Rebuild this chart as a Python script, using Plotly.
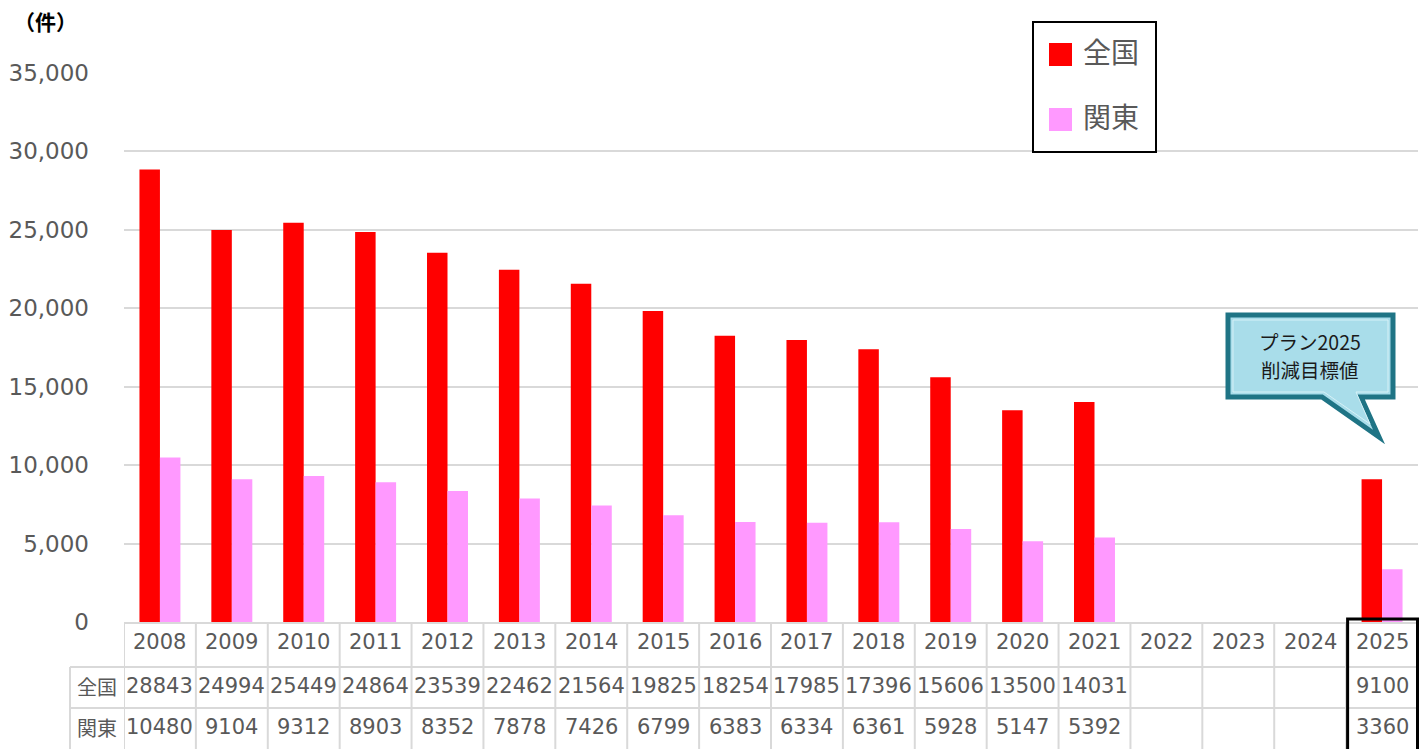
import plotly.graph_objects as go

# ---------------- data ----------------
years = ["2008", "2009", "2010", "2011", "2012", "2013", "2014", "2015", "2016",
         "2017", "2018", "2019", "2020", "2021", "2022", "2023", "2024", "2025"]
zenkoku = [28843, 24994, 25449, 24864, 23539, 22462, 21564, 19825, 18254,
           17985, 17396, 15606, 13500, 14031, None, None, None, 9100]
kanto = [10480, 9104, 9312, 8903, 8352, 7878, 7426, 6799, 6383,
         6334, 6361, 5928, 5147, 5392, None, None, None, 3360]
series_names = ["全国", "関東"]
unit_label = "（件）"
callout_lines = ["プラン2025", "削減目標値"]
y_ticks = [0, 5000, 10000, 15000, 20000, 25000, 30000, 35000]

# ---------------- styling ----------------
RED = "#FF0000"
PINK = "#FF99FF"
GRAY_TXT = "#595959"
GRID = "#D9D9D9"
NUM_FONT = "DejaVu Sans"
JP_FONT = "Noto Sans CJK JP"

W, H = 1419, 749
L, R, T, B = 124, 1, 73, 127
PW = W - L - R
PH = H - T - B
BASE = H - B  # pixel row of y = 0


def px(xp):
    return (xp - L) / PW


def py(yp):
    return (BASE - yp) / PH


fig = go.Figure()
fig.add_trace(go.Bar(x=years, y=zenkoku, name=series_names[0],
                     marker=dict(color=RED, line=dict(width=0)), showlegend=False))
fig.add_trace(go.Bar(x=years, y=kanto, name=series_names[1],
                     marker=dict(color=PINK, line=dict(width=0)), showlegend=False))

shapes = []
annotations = []


def ann(**kw):
    kw.setdefault("showarrow", False)
    kw.setdefault("xanchor", "center")
    kw.setdefault("yanchor", "middle")
    annotations.append(kw)


# ---- data table below the axis ----
row_year_y = py(641.5)
row_z_y = py(686)
row_k_y = py(727)
table_bottom = py(755)

for i in range(len(years) + 1):
    shapes.append(dict(type="line", xref="x", yref="paper",
                       x0=i - 0.5, x1=i - 0.5, y0=0, y1=table_bottom,
                       line=dict(color=GRID, width=2), layer="below"))
for yline in (667, 708):
    shapes.append(dict(type="line", xref="paper", yref="paper",
                       x0=px(70), x1=1, y0=py(yline), y1=py(yline),
                       line=dict(color=GRID, width=2)))
shapes.append(dict(type="line", xref="paper", yref="paper",
                   x0=px(70), x1=px(70), y0=py(667), y1=table_bottom,
                   line=dict(color=GRID, width=2)))

num_font = dict(family=NUM_FONT, size=21, color=GRAY_TXT)
for i, yr in enumerate(years):
    ann(xref="x", yref="paper", x=i, y=row_year_y, text=yr, font=num_font)
    if zenkoku[i] is not None:
        ann(xref="x", yref="paper", x=i, y=row_z_y, text=str(zenkoku[i]), font=num_font)
    if kanto[i] is not None:
        ann(xref="x", yref="paper", x=i, y=row_k_y, text=str(kanto[i]), font=num_font)

for name, yy in zip(series_names, (row_z_y, row_k_y)):
    ann(xref="paper", yref="paper", x=px(97), y=yy, text=name,
        font=dict(family=JP_FONT, size=20, color=GRAY_TXT))

# black frame around the 2025 column (left edge on the last category boundary)
n = len(years)
shapes.append(dict(type="rect", xref="paper", yref="paper",
                   x0=(n - 1) / n + 1.5 / PW, x1=px(1417.5), y0=py(619), y1=py(752),
                   line=dict(color="#000000", width=3)))

# ---- legend (manual) ----
shapes.append(dict(type="rect", xref="paper", yref="paper",
                   x0=px(1033), x1=px(1156), y0=py(22), y1=py(152),
                   line=dict(color="#000000", width=2), fillcolor="white"))
for color, (top, bot), name, cy in ((RED, (43, 66), series_names[0], 51),
                                    (PINK, (108, 131), series_names[1], 116)):
    shapes.append(dict(type="rect", xref="paper", yref="paper",
                       x0=px(1049), x1=px(1072), y0=py(top), y1=py(bot),
                       line=dict(width=0), fillcolor=color))
    ann(xref="paper", yref="paper", x=px(1081), y=py(cy), text=name, xanchor="left",
        font=dict(family=JP_FONT, size=28, color=GRAY_TXT))

# ---- unit label ----
ann(xref="paper", yref="paper", x=px(12), y=py(21), text="<b>" + unit_label + "</b>",
    xanchor="left", font=dict(family=JP_FONT, size=21, color="#000000"))


# ---- callout ----
def path(points):
    return "M " + " L ".join(f"{px(a):.5f},{py(b):.5f}" for a, b in points) + " Z"


outer = [(1228, 315), (1393, 315), (1393, 397), (1361, 397), (1379, 437), (1322, 397), (1228, 397)]
inner = [(1233, 320), (1388, 320), (1388, 392), (1356, 392), (1370, 424), (1324, 392), (1233, 392)]
shapes.append(dict(type="path", xref="paper", yref="paper", path=path(outer),
                   line=dict(color="#1F7485", width=5), fillcolor="#A9DDEA"))
shapes.append(dict(type="path", xref="paper", yref="paper", path=path(inner),
                   line=dict(color="#D6F1F7", width=1), fillcolor="rgba(0,0,0,0)"))
for line_text, cy in zip(callout_lines, (341, 370)):
    ann(xref="paper", yref="paper", x=px(1310), y=py(cy), text=line_text,
        font=dict(family=JP_FONT, size=19.5, color="#1A1A1A"))

fig.update_layout(
    width=W, height=H,
    margin=dict(l=L, r=R, t=T, b=B, pad=0),
    paper_bgcolor="white", plot_bgcolor="white",
    barmode="group", bargap=0.43, bargroupgap=0,
    showlegend=False,
    shapes=shapes, annotations=annotations,
    xaxis=dict(type="category", categoryorder="array", categoryarray=years,
               range=[-0.5, len(years) - 0.5], showticklabels=False, ticks="",
               showgrid=False, showline=True, linecolor=GRID, linewidth=2, zeroline=False,
               fixedrange=True),
    yaxis=dict(range=[0, 35000], tickvals=y_ticks, tickformat=",d", ticks="",
               ticklabelstandoff=34,
               showgrid=True, gridcolor=GRID, gridwidth=1.5, zeroline=False, showline=False,
               tickfont=dict(family=NUM_FONT, size=23, color=GRAY_TXT), fixedrange=True),
)

fig.write_html("out.html", config={"displayModeBar": False},
               post_script="document.body.style.margin='0';document.body.style.overflow='hidden';")
